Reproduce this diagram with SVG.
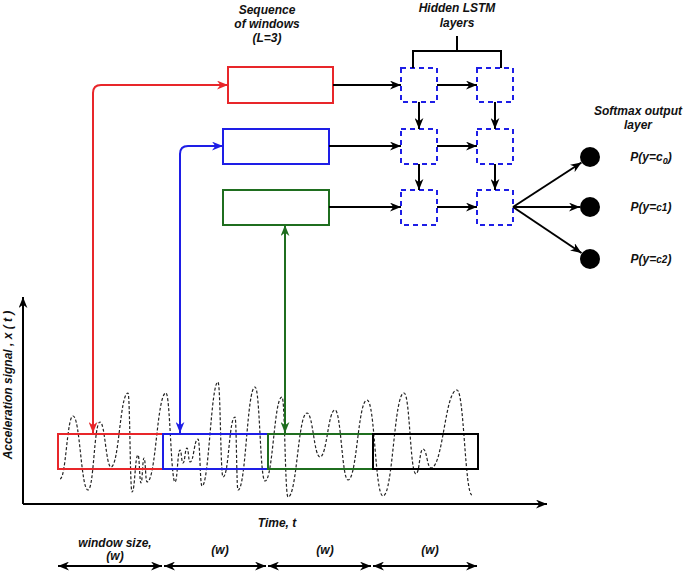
<svg xmlns="http://www.w3.org/2000/svg" width="685" height="573" viewBox="0 0 685 573">
<style>
text{font-family:"Liberation Sans",Arial,sans-serif;font-weight:bold;font-style:italic;font-size:12px;fill:#111;text-anchor:middle}
.blk{stroke:#000;stroke-width:2;fill:none}
.lstm{stroke:#1e1ee6;stroke-width:2;fill:none;stroke-dasharray:5 4}
.sig{stroke:#222;stroke-width:1.2;fill:none;stroke-dasharray:3 2}
</style>
<defs>
<marker id="ak" viewBox="0 0 10 8" refX="10" refY="4" markerWidth="11" markerHeight="9" markerUnits="userSpaceOnUse" orient="auto-start-reverse"><path d="M0,0L10,4L0,8L3,4z" fill="#000"/></marker>
<marker id="ar" viewBox="0 0 10 8" refX="10" refY="4" markerWidth="11" markerHeight="9" markerUnits="userSpaceOnUse" orient="auto-start-reverse"><path d="M0,0L10,4L0,8L3,4z" fill="#e8262a"/></marker>
<marker id="ab" viewBox="0 0 10 8" refX="10" refY="4" markerWidth="11" markerHeight="9" markerUnits="userSpaceOnUse" orient="auto-start-reverse"><path d="M0,0L10,4L0,8L3,4z" fill="#1e1ee6"/></marker>
<marker id="ag" viewBox="0 0 10 8" refX="10" refY="4" markerWidth="11" markerHeight="9" markerUnits="userSpaceOnUse" orient="auto-start-reverse"><path d="M0,0L10,4L0,8L3,4z" fill="#1f6e1f"/></marker>
</defs>
<rect width="685" height="573" fill="#fff"/>

<g id="labels">
<text x="267" y="14">Sequence</text>
<text x="267" y="28">of windows</text>
<text x="267" y="42">(L=3)</text>
<text x="457" y="12">Hidden LSTM</text>
<text x="457" y="27">layers</text>
<text x="638" y="115">Softmax output</text>
<text x="638" y="129">layer</text>
<text x="277" y="527">Time, t</text>
<text x="115" y="547">window size,</text>
<text x="115" y="560">(w)</text>
<text x="220" y="554">(w)</text>
<text x="325" y="554">(w)</text>
<text x="430" y="554">(w)</text>
<text transform="translate(12,385) rotate(-90)">Acceleration signal , x ( t )</text>
</g>

<g id="signal">
<path class="sig" d="M60,479 C66,479 67,416 73,416 C80,416 81,490 88,490 C94,490 94,422 100,422 C105,422 106,467 111,467 C119,467 120,393 128,393 C130,393 130,492 132,492 C135,492 135,455 138,455 C139.5,455 139.5,483 141,483 C142.5,483 142.5,458 144,458 C145.5,458 145.5,482 147,482 C156,482 157,393 166,393 C170,393 171,482 175,482 C177.5,482 177.5,450 180,450 C181.5,450 181.5,463 183,463 C185,463 185,448 187,448 C188.5,448 188.5,462 190,462 C194,462 194,439 198,439 C200,439 200,486 202,486 C209,486 211,382 218,382 C220.5,382 220.5,477 223,477 C229,477 229,417 235,417 C236.5,417 236.5,490 238,490 C246,490 247,387 255,387 C260,387 260,481 265,481 C273,481 274,397 282,397 C285,397 285,497 288,497 C297,497 298,413 307,413 C313,413 314,457 320,457 C327,457 328,410 335,410 C341,410 342,480 348,480 C357,480 358,400 367,400 C375,400 375,496 383,496 C393,496 394,393 404,393 C410,393 410,474 416,474 C419.5,474 419.5,449 423,449 C427,449 427,468 431,468 C443,468 445,390 457,390 C464,390 465,495 472,495"/>
</g>

<g id="axes">
<path class="blk" d="M23,504 V297" marker-end="url(#ak)"/>
<path class="blk" d="M23,504 H547" marker-end="url(#ak)"/>
</g>

<g id="windows">
<rect id="win1" x="58" y="434" width="105" height="35" fill="none" stroke="#e8262a" stroke-width="2"/>
<rect id="win2" x="163" y="434" width="105" height="35" fill="none" stroke="#1e1ee6" stroke-width="2"/>
<rect id="win3" x="268" y="434" width="105" height="35" fill="none" stroke="#1f6e1f" stroke-width="2"/>
<rect id="win4" x="373" y="434" width="105" height="35" fill="none" stroke="#000" stroke-width="2"/>
</g>

<g id="seq-red"><rect x="228" y="67" width="105" height="36" fill="none" stroke="#e8262a" stroke-width="2"/></g>
<g id="seq-blue"><rect x="223" y="129" width="106" height="35" fill="none" stroke="#1e1ee6" stroke-width="2"/></g>
<g id="seq-green"><rect x="223" y="190" width="106" height="35" fill="none" stroke="#1f6e1f" stroke-width="2"/></g>

<g id="lstm11"><rect class="lstm" x="401" y="68" width="36" height="34"/></g>
<g id="lstm12"><rect class="lstm" x="477" y="68" width="36" height="34"/></g>
<g id="lstm21"><rect class="lstm" x="401" y="129" width="36" height="35"/></g>
<g id="lstm22"><rect class="lstm" x="477" y="129" width="36" height="35"/></g>
<g id="lstm31"><rect class="lstm" x="401" y="190" width="36" height="35"/></g>
<g id="lstm32"><rect class="lstm" x="477" y="190" width="36" height="35"/></g>

<g id="out0"><circle cx="590" cy="157" r="10" fill="#000"/><text x="651" y="161">P(y=c<tspan font-size="9" dy="3">0</tspan><tspan dy="-3">)</tspan></text></g>
<g id="out1"><circle cx="590" cy="207" r="10" fill="#000"/><text x="651" y="211">P(y=<tspan font-size="10">c1</tspan>)</text></g>
<g id="out2"><circle cx="590" cy="259" r="10" fill="#000"/><text x="651" y="263">P(y=<tspan font-size="10">c2</tspan>)</text></g>

<g id="connectors">
<path d="M93,433 V93 Q93,85 101,85 H228" fill="none" stroke="#e8262a" stroke-width="2" marker-start="url(#ar)" marker-end="url(#ar)"/>
<path d="M180,433 V154 Q180,146 188,146 H223" fill="none" stroke="#1e1ee6" stroke-width="2" marker-start="url(#ab)" marker-end="url(#ab)"/>
<path d="M285,433 V225" fill="none" stroke="#1f6e1f" stroke-width="2" marker-start="url(#ag)" marker-end="url(#ag)"/>
<path class="blk" d="M333,85 H401" marker-end="url(#ak)"/>
<path class="blk" d="M329,146 H401" marker-end="url(#ak)"/>
<path class="blk" d="M329,207 H401" marker-end="url(#ak)"/>
<path class="blk" d="M437,85 H477" marker-end="url(#ak)"/>
<path class="blk" d="M437,146 H477" marker-end="url(#ak)"/>
<path class="blk" d="M437,207 H477" marker-end="url(#ak)"/>
<path class="blk" d="M419,102 V129" marker-end="url(#ak)"/>
<path class="blk" d="M419,164 V190" marker-end="url(#ak)"/>
<path class="blk" d="M495,102 V129" marker-end="url(#ak)"/>
<path class="blk" d="M495,164 V190" marker-end="url(#ak)"/>
<path class="blk" d="M413,68 V51 H501 V68 M457,51 V36"/>
<path class="blk" d="M513,207 L581.5,162.5" marker-end="url(#ak)"/>
<path class="blk" d="M513,207 H580" marker-end="url(#ak)"/>
<path class="blk" d="M513,207 L581.5,253" marker-end="url(#ak)"/>
<path class="blk" d="M58,566 H162" marker-start="url(#ak)" marker-end="url(#ak)"/>
<path class="blk" d="M164,566 H266" marker-start="url(#ak)" marker-end="url(#ak)"/>
<path class="blk" d="M268,566 H371" marker-start="url(#ak)" marker-end="url(#ak)"/>
<path class="blk" d="M373,566 H477" marker-start="url(#ak)" marker-end="url(#ak)"/>
</g>
</svg>
